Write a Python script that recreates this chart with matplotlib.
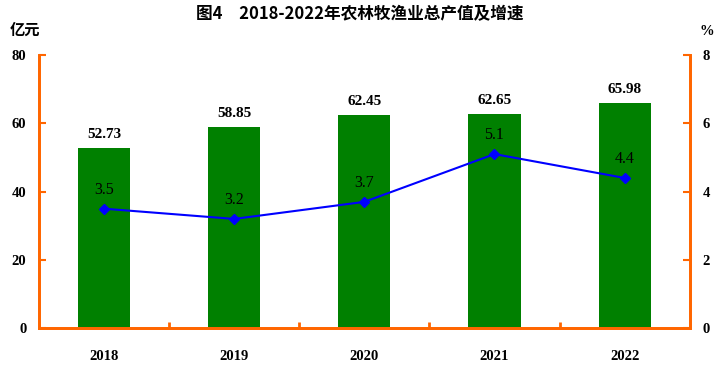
import matplotlib
matplotlib.use("Agg")
import matplotlib.pyplot as plt
from matplotlib.ticker import FixedLocator

years = ["2018", "2019", "2020", "2021", "2022"]
output_value = [52.73, 58.85, 62.45, 62.65, 65.98]
growth = [3.5, 3.2, 3.7, 5.1, 4.4]
left_ticks = [0, 20, 40, 60, 80]
right_ticks = [0, 2, 4, 6, 8]

plt.rcParams['font.family'] = ['Liberation Serif', 'Noto Sans CJK SC']
orange = '#FF6600'

fig = plt.figure(figsize=(7.2, 3.65), dpi=100)
ax = fig.add_axes([0.054, 0.101, 0.904, 0.748])
x = list(range(len(years)))
bars = ax.bar(x, output_value, width=0.4, color='#008000', zorder=2)
ax.set_xlim(-0.5, len(years) - 0.5)
ax.set_ylim(0, 80)
ax.set_yticks(left_ticks)
ax.set_xticks(x)
ax.set_xticklabels(years, fontweight='bold', fontsize=10.5)
ax.xaxis.set_minor_locator(FixedLocator([i + 0.5 for i in x[:-1]]))
ax.tick_params(axis='x', which='major', length=0, pad=16)
ax.tick_params(axis='x', which='minor', direction='in', length=4, width=2, color=orange)
ax.tick_params(axis='y', direction='in', length=5, width=1.5, color=orange, labelsize=10.5, pad=9)
for lab in ax.get_yticklabels():
    lab.set_fontweight('bold')
for s in ['left', 'bottom', 'right']:
    ax.spines[s].set_color(orange)
    ax.spines[s].set_linewidth(2)
ax.spines['top'].set_visible(False)

for xi, v in zip(x, output_value):
    ax.annotate(f"{v:.2f}", (xi, v), xytext=(0, 5), textcoords='offset points',
                ha='center', va='bottom', fontsize=11, fontweight='bold')

ax2 = ax.twinx()
ax2.set_ylim(0, 8)
ax2.set_yticks(right_ticks)
ax2.plot(x, growth, color='#0000FF', marker='D', markersize=5, linewidth=1.5, zorder=3)
ax2.tick_params(axis='y', direction='in', length=5, width=1.5, color=orange, labelsize=10.5, pad=9)
for lab in ax2.get_yticklabels():
    lab.set_fontweight('bold')
for s in ['left', 'bottom', 'right']:
    ax2.spines[s].set_color(orange)
    ax2.spines[s].set_linewidth(2)
ax2.spines['top'].set_visible(False)
for xi, v in zip(x, growth):
    ax2.annotate(f"{v}", (xi, v), xytext=(0, 8), textcoords='offset points',
                 ha='center', va='bottom', fontsize=11.5)

fig.text(0.5, 0.962, "图4　2018-2022年农林牧渔业总产值及增速", ha='center', va='center',
         fontsize=12, fontweight='bold', family=['Noto Sans CJK SC', 'DejaVu Sans'])
fig.text(0.013, 0.918, "亿元", ha='left', va='center', fontsize=11, fontweight='bold',
         family=['Noto Sans CJK SC', 'DejaVu Sans'])
fig.text(0.982, 0.915, "%", ha='center', va='center', fontsize=10.5, fontweight='bold')

fig.savefig("out.png", dpi=100)
